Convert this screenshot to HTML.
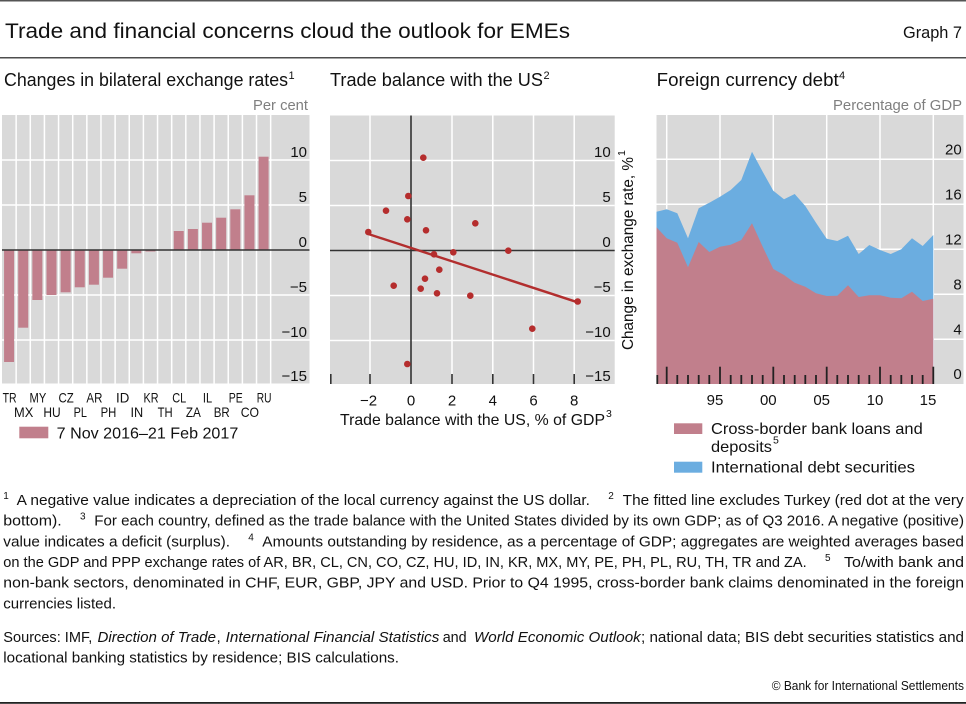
<!DOCTYPE html>
<html>
<head>
<meta charset="utf-8">
<style>
  html,body{margin:0;padding:0;background:#fff;}
  svg{display:block;}
  text{font-family:"Liberation Sans", Arial, sans-serif;fill:#111;}
  .num{font-size:15px;}
  .gray{fill:#7f7f7f;}
  .fn{font-size:14.5px;}
  .sup{font-size:10px;}
</style>
</head>
<body>
<svg width="966" height="704" viewBox="0 0 966 704" xmlns="http://www.w3.org/2000/svg">
  <!-- rules -->
  <rect x="0" y="0" width="966" height="1.5" fill="#555"/>
  <rect x="0" y="57.2" width="966" height="1.2" fill="#222"/>
  <rect x="0" y="702" width="966" height="1.8" fill="#222"/>

  <!-- main title -->
  <text x="5" y="38" font-size="21" textLength="565" lengthAdjust="spacingAndGlyphs">Trade and financial concerns cloud the outlook for EMEs</text>
  <text x="903" y="38" font-size="17" textLength="59" lengthAdjust="spacingAndGlyphs">Graph 7</text>

  <!-- panel titles -->
  <text x="4" y="86" font-size="18" textLength="284" lengthAdjust="spacingAndGlyphs">Changes in bilateral exchange rates</text>
  <text x="288.5" y="79" font-size="11">1</text>
  <text x="330" y="86" font-size="18" textLength="213" lengthAdjust="spacingAndGlyphs">Trade balance with the US</text>
  <text x="543.5" y="79" font-size="11">2</text>
  <text x="656.7" y="86" font-size="18" textLength="182" lengthAdjust="spacingAndGlyphs">Foreign currency debt</text>
  <text x="839" y="79" font-size="11">4</text>

  <!-- ============ LEFT PANEL ============ -->
  <text x="308" y="110" font-size="15" text-anchor="end" class="gray" textLength="55" lengthAdjust="spacingAndGlyphs">Per cent</text>
  <rect x="2" y="115" width="307.5" height="268.5" fill="#d9d9d9"/>
  <g stroke="#fff" stroke-width="1.5">
    <line x1="2" y1="160" x2="309.5" y2="160"/>
    <line x1="2" y1="205" x2="309.5" y2="205"/>
    <line x1="2" y1="295" x2="309.5" y2="295"/>
    <line x1="2" y1="340" x2="309.5" y2="340"/>
    <line x1="16.14" y1="115" x2="16.14" y2="383.5"/>
    <line x1="30.28" y1="115" x2="30.28" y2="383.5"/>
    <line x1="44.42" y1="115" x2="44.42" y2="383.5"/>
    <line x1="58.56" y1="115" x2="58.56" y2="383.5"/>
    <line x1="72.70" y1="115" x2="72.70" y2="383.5"/>
    <line x1="86.84" y1="115" x2="86.84" y2="383.5"/>
    <line x1="100.98" y1="115" x2="100.98" y2="383.5"/>
    <line x1="115.12" y1="115" x2="115.12" y2="383.5"/>
    <line x1="129.26" y1="115" x2="129.26" y2="383.5"/>
    <line x1="143.40" y1="115" x2="143.40" y2="383.5"/>
    <line x1="157.54" y1="115" x2="157.54" y2="383.5"/>
    <line x1="171.68" y1="115" x2="171.68" y2="383.5"/>
    <line x1="185.82" y1="115" x2="185.82" y2="383.5"/>
    <line x1="199.96" y1="115" x2="199.96" y2="383.5"/>
    <line x1="214.10" y1="115" x2="214.10" y2="383.5"/>
    <line x1="228.24" y1="115" x2="228.24" y2="383.5"/>
    <line x1="242.38" y1="115" x2="242.38" y2="383.5"/>
    <line x1="256.52" y1="115" x2="256.52" y2="383.5"/>
    <line x1="270.66" y1="115" x2="270.66" y2="383.5"/>
  </g>
  <g fill="#c17f8c">
    <rect x="4.07" y="250" width="10" height="112"/>
    <rect x="18.21" y="250" width="10" height="77.7"/>
    <rect x="32.35" y="250" width="10" height="50"/>
    <rect x="46.49" y="250" width="10" height="45"/>
    <rect x="60.63" y="250" width="10" height="42.3"/>
    <rect x="74.77" y="250" width="10" height="37.3"/>
    <rect x="88.91" y="250" width="10" height="34.7"/>
    <rect x="103.05" y="250" width="10" height="27.7"/>
    <rect x="117.19" y="250" width="10" height="18.7"/>
    <rect x="131.33" y="250" width="10" height="3.3"/>
    <rect x="145.47" y="250" width="10" height="1.5"/>
    <rect x="173.75" y="231" width="10" height="19"/>
    <rect x="187.89" y="229" width="10" height="21"/>
    <rect x="202.03" y="222.7" width="10" height="27.3"/>
    <rect x="216.17" y="217.7" width="10" height="32.3"/>
    <rect x="230.31" y="209.3" width="10" height="40.7"/>
    <rect x="244.45" y="195.3" width="10" height="54.7"/>
    <rect x="258.59" y="156.7" width="10" height="93.3"/>
  </g>
  <line x1="2" y1="250" x2="309.5" y2="250" stroke="#333" stroke-width="1.6"/>
  <g text-anchor="end">
    <text x="307" y="157" class="num">10</text>
    <text x="307" y="202" class="num">5</text>
    <text x="307" y="247" class="num">0</text>
    <text x="307" y="292" class="num">−5</text>
    <text x="307" y="337" class="num">−10</text>
    <text x="307" y="381" class="num">−15</text>
  </g>
  <g font-size="14" text-anchor="middle">
    <text x="9.6" y="402.5" textLength="14" lengthAdjust="spacingAndGlyphs">TR</text>
    <text x="37.9" y="402.5" textLength="16.7" lengthAdjust="spacingAndGlyphs">MY</text>
    <text x="66.1" y="402.5" textLength="15.3" lengthAdjust="spacingAndGlyphs">CZ</text>
    <text x="94.4" y="402.5" textLength="16" lengthAdjust="spacingAndGlyphs">AR</text>
    <text x="122.7" y="402.5" textLength="13.3" lengthAdjust="spacingAndGlyphs">ID</text>
    <text x="151" y="402.5" textLength="15" lengthAdjust="spacingAndGlyphs">KR</text>
    <text x="179.2" y="402.5" textLength="14" lengthAdjust="spacingAndGlyphs">CL</text>
    <text x="207.5" y="402.5" textLength="9.3" lengthAdjust="spacingAndGlyphs">IL</text>
    <text x="235.8" y="402.5" textLength="14" lengthAdjust="spacingAndGlyphs">PE</text>
    <text x="264.1" y="402.5" textLength="14.7" lengthAdjust="spacingAndGlyphs">RU</text>
    <text x="23.7" y="417" textLength="19.3" lengthAdjust="spacingAndGlyphs">MX</text>
    <text x="52" y="417" textLength="17.3" lengthAdjust="spacingAndGlyphs">HU</text>
    <text x="80.3" y="417" textLength="13.3" lengthAdjust="spacingAndGlyphs">PL</text>
    <text x="108.5" y="417" textLength="15.7" lengthAdjust="spacingAndGlyphs">PH</text>
    <text x="136.8" y="417" textLength="12.7" lengthAdjust="spacingAndGlyphs">IN</text>
    <text x="165.1" y="417" textLength="15" lengthAdjust="spacingAndGlyphs">TH</text>
    <text x="193.4" y="417" textLength="15" lengthAdjust="spacingAndGlyphs">ZA</text>
    <text x="221.7" y="417" textLength="16" lengthAdjust="spacingAndGlyphs">BR</text>
    <text x="249.9" y="417" textLength="18.3" lengthAdjust="spacingAndGlyphs">CO</text>
  </g>
  <rect x="19.3" y="426.7" width="29" height="11.6" fill="#c17f8c"/>
  <text x="56.7" y="438.5" font-size="16" textLength="181.6" lengthAdjust="spacingAndGlyphs">7 Nov 2016–21 Feb 2017</text>

  <!-- ============ MIDDLE PANEL ============ -->
  <rect x="330" y="115.5" width="284.7" height="268.5" fill="#d9d9d9"/>
  <g stroke="#fff" stroke-width="1.5">
    <line x1="330" y1="160.5" x2="614.7" y2="160.5"/>
    <line x1="330" y1="205.5" x2="614.7" y2="205.5"/>
    <line x1="330" y1="295.5" x2="614.7" y2="295.5"/>
    <line x1="330" y1="340.5" x2="614.7" y2="340.5"/>
    <line x1="370" y1="115.5" x2="370" y2="384"/>
    <line x1="452" y1="115.5" x2="452" y2="384"/>
    <line x1="492.8" y1="115.5" x2="492.8" y2="384"/>
    <line x1="533.5" y1="115.5" x2="533.5" y2="384"/>
    <line x1="574.2" y1="115.5" x2="574.2" y2="384"/>
  </g>
  <g stroke="#333" stroke-width="1.6">
    <line x1="330" y1="250.5" x2="614.7" y2="250.5"/>
    <line x1="411" y1="115.5" x2="411" y2="384"/>
    <line x1="330.8" y1="374" x2="330.8" y2="384"/>
    <line x1="370" y1="374" x2="370" y2="384"/>
    <line x1="452" y1="374" x2="452" y2="384"/>
    <line x1="492.8" y1="374" x2="492.8" y2="384"/>
    <line x1="533.5" y1="374" x2="533.5" y2="384"/>
    <line x1="574.2" y1="374" x2="574.2" y2="384"/>
  </g>
  <line x1="368.3" y1="234" x2="577.7" y2="302.3" stroke="#b22e2e" stroke-width="2.4"/>
  <g fill="#b52d2d">
    <circle cx="423.3" cy="157.7" r="3.3"/>
    <circle cx="408.3" cy="196" r="3.3"/>
    <circle cx="386" cy="210.7" r="3.3"/>
    <circle cx="407.3" cy="219.3" r="3.3"/>
    <circle cx="475.3" cy="223.3" r="3.3"/>
    <circle cx="368.3" cy="232" r="3.3"/>
    <circle cx="426" cy="230.3" r="3.3"/>
    <circle cx="434" cy="254.3" r="3.3"/>
    <circle cx="453.3" cy="252.3" r="3.3"/>
    <circle cx="508.3" cy="250.7" r="3.3"/>
    <circle cx="439.3" cy="269.7" r="3.3"/>
    <circle cx="425" cy="278.7" r="3.3"/>
    <circle cx="393.7" cy="285.7" r="3.3"/>
    <circle cx="420.7" cy="288.7" r="3.3"/>
    <circle cx="437" cy="293.3" r="3.3"/>
    <circle cx="470.3" cy="295.7" r="3.3"/>
    <circle cx="577.7" cy="301.5" r="3.3"/>
    <circle cx="532.3" cy="328.7" r="3.3"/>
    <circle cx="407.3" cy="364" r="3.3"/>
  </g>
  <g text-anchor="end">
    <text x="610.7" y="157" class="num">10</text>
    <text x="610.7" y="202" class="num">5</text>
    <text x="610.7" y="247" class="num">0</text>
    <text x="610.7" y="292" class="num">−5</text>
    <text x="610.7" y="337" class="num">−10</text>
    <text x="610.7" y="381" class="num">−15</text>
  </g>
  <g text-anchor="middle">
    <text x="368.5" y="405.5" class="num">−2</text>
    <text x="411" y="405.5" class="num">0</text>
    <text x="452" y="405.5" class="num">2</text>
    <text x="492.8" y="405.5" class="num">4</text>
    <text x="533.5" y="405.5" class="num">6</text>
    <text x="574.2" y="405.5" class="num">8</text>
  </g>
  <text x="340" y="425" font-size="16" textLength="265" lengthAdjust="spacingAndGlyphs">Trade balance with the US, % of GDP</text>
  <text x="606" y="417" font-size="10.5">3</text>
  <g transform="translate(633,350) rotate(-90)">
    <text x="0" y="0" font-size="16" textLength="193" lengthAdjust="spacingAndGlyphs">Change in exchange rate, %</text>
    <text x="194" y="-8" font-size="10.5">1</text>
  </g>

  <!-- ============ RIGHT PANEL ============ -->
  <text x="962" y="110" font-size="15" text-anchor="end" class="gray" textLength="129" lengthAdjust="spacingAndGlyphs">Percentage of GDP</text>
  <rect x="656.5" y="115" width="307" height="269" fill="#d9d9d9"/>
  <g stroke="#fff" stroke-width="1.5">
    <line x1="656.5" y1="159.3" x2="963.5" y2="159.3"/>
    <line x1="656.5" y1="204.3" x2="963.5" y2="204.3"/>
    <line x1="656.5" y1="249.3" x2="963.5" y2="249.3"/>
    <line x1="656.5" y1="294.3" x2="963.5" y2="294.3"/>
    <line x1="656.5" y1="339.3" x2="963.5" y2="339.3"/>
    <line x1="666.7" y1="115" x2="666.7" y2="384"/>
    <line x1="720" y1="115" x2="720" y2="384"/>
    <line x1="773.3" y1="115" x2="773.3" y2="384"/>
    <line x1="826.7" y1="115" x2="826.7" y2="384"/>
    <line x1="880" y1="115" x2="880" y2="384"/>
    <line x1="933.3" y1="115" x2="933.3" y2="384"/>
  </g>
  <polygon fill="#6badE0" points="656.5,384 656.5,211.7 666.7,209.3 677.3,213.3 688.0,238.3 698.7,208.3 709.3,202.7 720.0,196.7 730.7,190.0 741.3,180.0 752.0,151.7 762.7,171.7 773.3,190.7 784.0,199.3 794.7,194.0 805.3,206.0 816.0,222.7 826.7,238.7 837.3,241.0 848.0,235.7 858.7,254.0 869.3,245.0 880.0,250.0 890.7,254.0 901.3,249.3 912.0,238.3 922.7,246.0 933.3,235.0 933.3,384"/>
  <polygon fill="#c17f8c" points="656.5,384 656.5,227.3 666.7,238.3 677.3,242.7 688.0,267.3 698.7,242.0 709.3,252.0 720.0,246.7 730.7,244.7 741.3,240.0 752.0,223.3 762.7,246.7 773.3,269.0 784.0,275.0 794.7,282.7 805.3,286.7 816.0,293.3 826.7,296.0 837.3,295.7 848.0,285.3 858.7,297.0 869.3,295.3 880.0,295.3 890.7,297.7 901.3,298.3 912.0,291.7 922.7,301.0 933.3,298.7 933.3,384"/>
  <g stroke="#222" stroke-width="1.8">
    <line x1="657.3" y1="375" x2="657.3" y2="384"/>
    <line x1="666.7" y1="366.7" x2="666.7" y2="384"/>
    <line x1="677.3" y1="375" x2="677.3" y2="384"/>
    <line x1="688.0" y1="375" x2="688.0" y2="384"/>
    <line x1="698.7" y1="375" x2="698.7" y2="384"/>
    <line x1="709.3" y1="375" x2="709.3" y2="384"/>
    <line x1="720.0" y1="366.7" x2="720.0" y2="384"/>
    <line x1="730.7" y1="375" x2="730.7" y2="384"/>
    <line x1="741.3" y1="375" x2="741.3" y2="384"/>
    <line x1="752.0" y1="375" x2="752.0" y2="384"/>
    <line x1="762.7" y1="375" x2="762.7" y2="384"/>
    <line x1="773.3" y1="366.7" x2="773.3" y2="384"/>
    <line x1="784.0" y1="375" x2="784.0" y2="384"/>
    <line x1="794.7" y1="375" x2="794.7" y2="384"/>
    <line x1="805.3" y1="375" x2="805.3" y2="384"/>
    <line x1="816.0" y1="375" x2="816.0" y2="384"/>
    <line x1="826.7" y1="366.7" x2="826.7" y2="384"/>
    <line x1="837.3" y1="375" x2="837.3" y2="384"/>
    <line x1="848.0" y1="375" x2="848.0" y2="384"/>
    <line x1="858.7" y1="375" x2="858.7" y2="384"/>
    <line x1="869.3" y1="375" x2="869.3" y2="384"/>
    <line x1="880.0" y1="366.7" x2="880.0" y2="384"/>
    <line x1="890.7" y1="375" x2="890.7" y2="384"/>
    <line x1="901.3" y1="375" x2="901.3" y2="384"/>
    <line x1="912.0" y1="375" x2="912.0" y2="384"/>
    <line x1="922.7" y1="375" x2="922.7" y2="384"/>
    <line x1="933.3" y1="366.7" x2="933.3" y2="384"/>
  </g>
  <g text-anchor="end">
    <text x="961.7" y="154.5" class="num">20</text>
    <text x="961.7" y="199.5" class="num">16</text>
    <text x="961.7" y="244.5" class="num">12</text>
    <text x="961.7" y="289.5" class="num">8</text>
    <text x="961.7" y="334.5" class="num">4</text>
    <text x="961.7" y="379" class="num">0</text>
  </g>
  <g text-anchor="middle">
    <text x="715" y="405" class="num">95</text>
    <text x="768.3" y="405" class="num">00</text>
    <text x="821.7" y="405" class="num">05</text>
    <text x="875" y="405" class="num">10</text>
    <text x="928" y="405" class="num">15</text>
  </g>
  <rect x="674" y="423.3" width="28.3" height="10.7" fill="#c17f8c"/>
  <text x="711" y="434" font-size="16" textLength="211.7" lengthAdjust="spacingAndGlyphs">Cross-border bank loans and</text>
  <text x="711" y="452" font-size="16" textLength="61" lengthAdjust="spacingAndGlyphs">deposits</text>
  <text x="773" y="443.5" font-size="10.5">5</text>
  <rect x="674" y="461.7" width="28.3" height="11" fill="#6badE0"/>
  <text x="711" y="472.3" font-size="16" textLength="204" lengthAdjust="spacingAndGlyphs">International debt securities</text>

  <!-- ============ FOOTNOTES ============ -->
  <g class="fn">
    <text x="3.3" y="499" class="sup">1</text>
    <text x="16.7" y="505" class="fn" textLength="573.3" lengthAdjust="spacingAndGlyphs">A negative value indicates a depreciation of the local currency against the US dollar.</text>
    <text x="608.3" y="499" class="sup">2</text>
    <text x="622.7" y="505" class="fn" textLength="341" lengthAdjust="spacingAndGlyphs">The fitted line excludes Turkey (red dot at the very</text>

    <text x="3.3" y="525.7" class="fn" textLength="58.4" lengthAdjust="spacingAndGlyphs">bottom).</text>
    <text x="80" y="519.7" class="sup">3</text>
    <text x="94.3" y="525.7" class="fn" textLength="869.7" lengthAdjust="spacingAndGlyphs">For each country, defined as the trade balance with the United States divided by its own GDP; as of Q3 2016. A negative (positive)</text>

    <text x="3.3" y="546.3" class="fn" textLength="226.7" lengthAdjust="spacingAndGlyphs">value indicates a deficit (surplus).</text>
    <text x="248.3" y="540.3" class="sup">4</text>
    <text x="262.3" y="546.3" class="fn" textLength="701.7" lengthAdjust="spacingAndGlyphs">Amounts outstanding by residence, as a percentage of GDP; aggregates are weighted averages based</text>

    <text x="3.3" y="567" class="fn" textLength="803.4" lengthAdjust="spacingAndGlyphs">on the GDP and PPP exchange rates of AR, BR, CL, CN, CO, CZ, HU, ID, IN, KR, MX, MY, PE, PH, PL, RU, TH, TR and ZA.</text>
    <text x="825" y="561" class="sup">5</text>
    <text x="844" y="567" class="fn" textLength="120" lengthAdjust="spacingAndGlyphs">To/with bank and</text>

    <text x="3.3" y="587.7" class="fn" textLength="960.7" lengthAdjust="spacingAndGlyphs">non-bank sectors, denominated in CHF, EUR, GBP, JPY and USD. Prior to Q4 1995, cross-border bank claims denominated in the foreign</text>
    <text x="3.3" y="608.3" class="fn" textLength="112.7" lengthAdjust="spacingAndGlyphs">currencies listed.</text>

    <text x="3.3" y="642" class="fn" textLength="89" lengthAdjust="spacingAndGlyphs">Sources: IMF,</text>
    <text x="97.5" y="642" class="fn" font-style="italic" textLength="118.5" lengthAdjust="spacingAndGlyphs">Direction of Trade</text>
    <text x="216.6" y="642" class="fn">,</text>
    <text x="225.7" y="642" class="fn" font-style="italic" textLength="213.6" lengthAdjust="spacingAndGlyphs">International Financial Statistics</text>
    <text x="442.7" y="642" class="fn" textLength="24" lengthAdjust="spacingAndGlyphs">and</text>
    <text x="474" y="642" class="fn" font-style="italic" textLength="166.7" lengthAdjust="spacingAndGlyphs">World Economic Outlook</text>
    <text x="641" y="642" class="fn" textLength="323" lengthAdjust="spacingAndGlyphs">; national data; BIS debt securities statistics and</text>
    <text x="3.3" y="662.7" class="fn" textLength="395.7" lengthAdjust="spacingAndGlyphs">locational banking statistics by residence; BIS calculations.</text>

    <text x="771.7" y="690" font-size="13" textLength="192.3" lengthAdjust="spacingAndGlyphs">© Bank for International Settlements</text>
  </g>
</svg>
</body>
</html>
